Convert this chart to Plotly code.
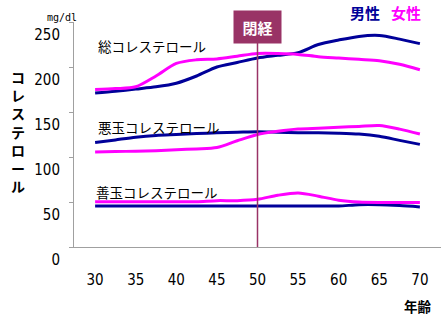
import plotly.graph_objects as go

ages = [30, 32.5, 35, 37.5, 40, 42.5, 45, 47.5, 50, 52.5, 55, 57.5, 60, 62.5, 65, 67.5, 70]
men_total = [171, 173, 175.5, 178, 182, 190, 200, 205, 210, 213, 216, 225, 230, 234, 235, 231, 226]
women_total = [175, 176, 178, 190, 204, 208, 209, 212, 215, 215, 214, 211.5, 210, 208.5, 207, 203, 197]
men_ldl = [116, 119, 122, 124, 125, 126, 127, 127.5, 128, 127.5, 127, 127, 126.5, 125.5, 123, 118.5, 114]
women_ldl = [105.5, 106, 106.5, 107, 108, 109, 110.5, 118, 125, 128.5, 131, 132, 133, 134, 135, 131, 125.5]
men_hdl = [45.5, 45.5, 45.5, 45.5, 45.5, 45.5, 45.5, 45.5, 45.5, 45.5, 45.5, 45.5, 45.5, 47, 47, 46, 44.5]
women_hdl = [50.3, 50.3, 50.3, 50.3, 50.3, 50.3, 51.5, 51.5, 53, 57.5, 60, 56.5, 52, 50, 49.5, 49.5, 49.5]

x_ticks = [30, 35, 40, 45, 50, 55, 60, 65, 70]
y_ticks = [0, 50, 100, 150, 200, 250]
menopause_age = 50

NAVY = "#000099"
MAGENTA = "#FF00FF"
PLUM = "#993366"

W, H = 444, 322
L, R, T, B = 74, 3, 22, 75
PW, PH = W - L - R, H - T - B


def px(x, y):
    return (x - L) / PW, (H - B - y) / PH


fig = go.Figure()
series = [
    (men_total, NAVY), (women_total, MAGENTA),
    (men_ldl, NAVY), (women_ldl, MAGENTA),
    (men_hdl, NAVY), (women_hdl, MAGENTA),
]
for vals, col in series:
    fig.add_trace(go.Scatter(x=ages, y=vals, mode="lines",
                             line=dict(color=col, width=3, shape="spline", smoothing=0.8),
                             showlegend=False, hoverinfo="skip"))

fig.add_shape(type="line", xref="x", yref="paper", x0=menopause_age, x1=menopause_age,
              y0=0, y1=px(0, 42)[1], line=dict(color=PLUM, width=1.5), layer="above")

ann = []
jp = "Noto Sans CJK JP"
# menopause box
bx, by = px(256.5, 27)
ann.append(dict(text="<b>閉経</b>", x=menopause_age, xref="x", y=by, yref="paper",
                showarrow=False, bgcolor=PLUM, width=45, height=30,
                font=dict(family=jp, size=15, color="white"), xanchor="center", yanchor="middle"))
# legend-like labels
for t, cx, col in [("男性", 364.5, NAVY), ("女性", 406, MAGENTA)]:
    ax, ay = px(cx, 13)
    ann.append(dict(text=f"<b>{t}</b>", x=ax, y=ay, xref="paper", yref="paper", showarrow=False,
                    font=dict(family=jp, size=15, color=col), xanchor="center", yanchor="middle"))
# series labels
for t, lx, ly in [("総コレステロール", 96, 46), ("悪玉コレステロール", 96, 127), ("善玉コレステロール", 94, 192)]:
    ax, ay = px(lx, ly)
    ann.append(dict(text=t, x=ax, y=ay, xref="paper", yref="paper", showarrow=False,
                    font=dict(family=jp, size=13.5, color="black"), xanchor="left", yanchor="middle"))
# unit
ax, ay = px(62, 17)
ann.append(dict(text="mg/dl", x=ax, y=ay, xref="paper", yref="paper", showarrow=False,
                font=dict(family="DejaVu Sans Mono", size=10, color="black"), xanchor="center", yanchor="middle"))
# x title
ax, ay = px(417.5, 306)
ann.append(dict(text="<b>年齢</b>", x=ax, y=ay, xref="paper", yref="paper", showarrow=False,
                font=dict(family=jp, size=13.5, color="black"), xanchor="center", yanchor="middle"))
# y title, stacked vertically in one text
ytitle = "コレステロール"
ax, ay = px(17.5, 131)
ann.append(dict(text="<b>" + "<br>".join(ytitle) + "</b>", x=ax, y=ay, xref="paper", yref="paper",
                showarrow=False, font=dict(family=jp, size=14, color="black"),
                xanchor="center", yanchor="middle", align="center"))

tickfont = dict(family="Liberation Sans Narrow, Arial Narrow, DejaVu Sans Condensed, sans-serif",
                size=15, color="black")
fig.update_layout(
    width=W, height=H, margin=dict(l=L, r=R, t=T, b=B),
    paper_bgcolor="white", plot_bgcolor="white",
    annotations=ann,
    xaxis=dict(range=[27.4, 72.6], tickvals=x_ticks, ticktext=[str(v) for v in x_ticks],
               showgrid=False, zeroline=False, showline=True, linecolor="#A0A0A0", linewidth=1,
               ticks="", tickfont=tickfont, ticklabelstandoff=19),
    yaxis=dict(range=[0, 250], tickvals=y_ticks, ticktext=[str(v) for v in y_ticks],
               showgrid=False, zeroline=False, showline=True, linecolor="#A0A0A0", linewidth=1,
               ticks="outside", ticklen=4, tickcolor="#A0A0A0", tickfont=tickfont,
               ticklabelshift=13, ticklabelstandoff=6),
)
fig.write_html("out.html")
